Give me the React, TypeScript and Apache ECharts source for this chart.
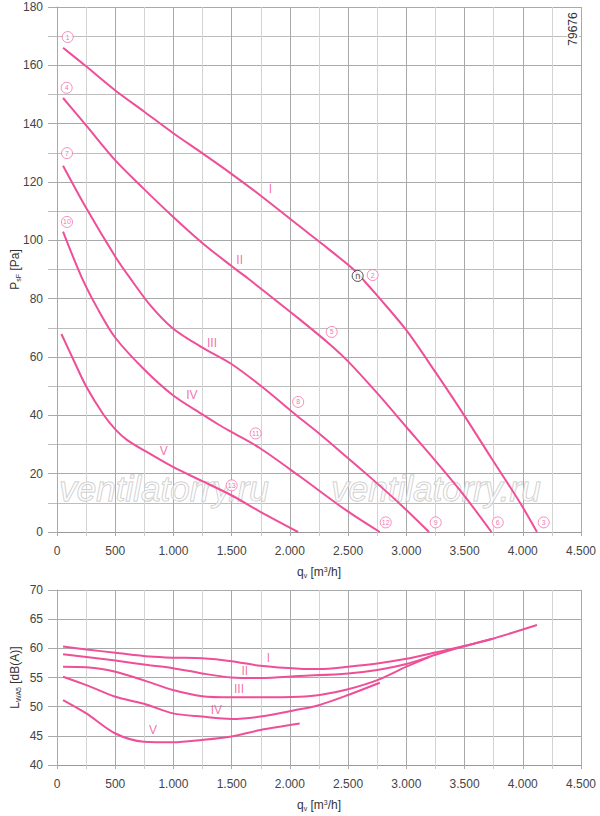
import { useEffect, useRef } from 'react';
import * as echarts from 'echarts';

const PINK = '#ee4f98';
const FONT = "'Liberation Sans', Arial, sans-serif";

// Druckkurven P_sF [Pa] über q_v [m3/h]
const pressI = [[52, 166], [252, 159.6], [501, 151.4], [750, 144.1], [996, 136.8], [1250, 129.8], [1498, 122.8], [1750, 115.3], [2084, 104.8], [2256, 99.4], [2542, 90.2], [2643, 85.9], [2760, 80.6], [3000, 69.2], [3250, 54.8], [3487, 40.6], [3731, 25.3], [3974, 10.2], [4122, 0]];
const pressII = [[52, 148.8], [252, 139.3], [501, 127.4], [739, 117.9], [996, 108.1], [1245, 99.2], [1498, 91.2], [1641, 86.9], [2084, 72.9], [2359, 63.8], [2500, 58.5], [2750, 47.6], [3000, 36], [3250, 24.4], [3487, 13.0], [3731, 0]];
const pressIII = [[52, 125.6], [252, 111], [501, 94.4], [625, 87.2], [800, 77.8], [996, 69.8], [1245, 63.3], [1498, 57.6], [1747, 50.2], [2084, 39.1], [2256, 33.6], [2500, 25.3], [2686, 18.9], [2943, 9.7], [3195, 0]];
const pressIV = [[52, 103], [210, 87.5], [350, 76.5], [501, 66.6], [747, 55.8], [996, 46.9], [1245, 40.4], [1397, 36.6], [1498, 34.3], [1741, 28.8], [2084, 19.1], [2485, 7.4], [2772, 0]];
const pressV = [[38, 67.9], [150, 58.3], [252, 49.8], [400, 40.2], [501, 35.2], [600, 31.6], [747, 28], [996, 22.3], [1245, 17.5], [1498, 12.6], [1747, 6.9], [2070, 0]];

// Schallleistung L_WA5 [dB(A)]
const noiseI = [[52, 60.3], [252, 59.8], [501, 59.25], [796, 58.6], [996, 58.4], [1245, 58.3], [1498, 57.8], [1747, 57.0], [2084, 56.5], [2256, 56.45], [2500, 56.85], [2750, 57.4], [3000, 58.2], [3250, 59.3], [3500, 60.4], [3750, 61.7], [4122, 64.0]];
const noiseII = [[52, 59.0], [501, 57.9], [796, 57.1], [996, 56.6], [1245, 55.7], [1498, 55.0], [1747, 54.9], [2084, 55.25], [2500, 55.7], [2750, 56.3], [3000, 57.3], [3250, 58.9], [3487, 60.3], [3731, 61.6]];
const noiseIII = [[52, 56.86], [252, 56.75], [501, 56.0], [747, 54.5], [996, 52.85], [1245, 51.8], [1498, 51.6], [1747, 51.6], [2084, 51.7], [2256, 52.0], [2500, 53.0], [2757, 54.6], [3000, 56.85], [3195, 58.5]];
const noiseIV = [[52, 55.14], [252, 53.7], [501, 51.7], [747, 50.5], [996, 48.85], [1245, 48.3], [1498, 47.9], [1747, 48.3], [2084, 49.55], [2256, 50.3], [2500, 52.0], [2772, 54.1]];
const noiseV = [[52, 51.14], [252, 48.85], [501, 45.4], [747, 44.0], [996, 43.9], [1245, 44.3], [1498, 44.9], [1747, 46.0], [2084, 47.1]];

// Beschriftungen
const curveNames = ['I', 'II', 'III', 'IV', 'V'];
const pressLabelPos = [[1833, 117.6], [1569, 93.3], [1331, 64.7], [1159, 46.9], [916, 27.8]];
const noiseLabelPos = [[1815, 58.3], [1612, 56.2], [1563, 53.1], [1369, 49.4], [824, 46.0]];
const pointMarks = [
  [92, 169.7, '1'], [2711, 88.1, '2'], [4180, 3.3, '3'],
  [83, 152.3, '4'], [2359, 68.6, '5'], [3785, 3.3, '6'],
  [86, 129.9, '7'], [2071, 44.6, '8'], [3252, 3.3, '9'],
  [86, 106.3, '10'], [1706, 33.8, '11'], [2823, 3.3, '12'],
  [1500, 16.0, '13'],
];
const nominalPoint = [[2582, 87.8, 'n']];

const pressCurves = [pressI, pressII, pressIII, pressIV, pressV];
const noiseCurves = [noiseI, noiseII, noiseIII, noiseIV, noiseV];

const fmtFlow = (v: number) =>
  v >= 1000 ? `${Math.floor(v / 1000)}.${String(v % 1000).padStart(3, '0')}` : String(v);

const rich = {
  sub: { fontSize: 7, padding: [7, 0, 0, 0], fontFamily: FONT, color: '#333' },
  sup: { fontSize: 7, padding: [0, 0, 6, 0], fontFamily: FONT, color: '#333' },
};

function xAxisCfg(gridIndex: number) {
  return {
    type: 'value',
    gridIndex,
    min: 0,
    max: 4500,
    interval: 500,
    name: 'q{sub|v} [m{sup|3}/h]',
    nameLocation: 'middle',
    nameGap: 33,
    nameTextStyle: { fontSize: 12, color: '#333', fontFamily: FONT, rich },
    axisLine: { show: true, lineStyle: { color: '#999', width: 1 } },
    axisTick: { show: true, length: 4, lineStyle: { color: '#aaa' } },
    minorTick: { show: true, splitNumber: 2, length: 4, lineStyle: { color: '#ccc' } },
    splitLine: { show: true, lineStyle: { color: '#a9a9a9', width: 1 } },
    minorSplitLine: { show: true, lineStyle: { color: '#d3d3d3', width: 1 } },
    axisLabel: { formatter: fmtFlow, color: '#444', fontSize: 12, margin: 13, fontFamily: FONT },
  };
}

function watermark(x: number) {
  return {
    type: 'text',
    x,
    y: 488,
    z: 1,
    style: {
      text: 'ventilatorry.ru',
      font: `italic 35px ${FONT}`,
      fill: 'rgba(255,255,255,0.5)',
      stroke: '#c4c4c4',
      lineWidth: 1,
      align: 'center',
      verticalAlign: 'middle',
    },
  };
}

export default function App() {
  const chartRef = useRef<HTMLDivElement>(null);

  useEffect(() => {
    if (!chartRef.current) return;
    const chart = echarts.init(chartRef.current, undefined, { renderer: 'svg' });

    const lineSeries: any[] = [];
    pressCurves.forEach((d, i) => {
      lineSeries.push({
        name: 'P ' + curveNames[i],
        type: 'line',
        xAxisIndex: 0,
        yAxisIndex: 0,
        data: d,
        smooth: 0.3,
        showSymbol: false,
        z: 3,
        lineStyle: { color: PINK, width: 2 },
      });
    });
    noiseCurves.forEach((d, i) => {
      lineSeries.push({
        name: 'L ' + curveNames[i],
        type: 'line',
        xAxisIndex: 1,
        yAxisIndex: 1,
        data: d,
        smooth: 0.3,
        showSymbol: false,
        z: 3,
        lineStyle: { color: PINK, width: 2 },
      });
    });

    const romanLabels = (pos: number[][], xi: number) => ({
      type: 'scatter',
      xAxisIndex: xi,
      yAxisIndex: xi,
      symbolSize: 1,
      itemStyle: { color: 'rgba(0,0,0,0)' },
      z: 4,
      data: pos.map((p, i) => [p[0], p[1], curveNames[i]]),
      label: {
        show: true,
        position: 'inside',
        formatter: (p: any) => p.value[2],
        color: PINK,
        fontSize: 12,
        fontFamily: FONT,
      },
    });

    const option: any = {
      animation: false,
      backgroundColor: '#fff',
      grid: [
        { left: 57, right: 19, top: 7, height: 525, containLabel: false, outerBoundsMode: 'none' },
        { left: 57, right: 19, top: 590, height: 175, containLabel: false, outerBoundsMode: 'none' },
      ],
      xAxis: [xAxisCfg(0), xAxisCfg(1)],
      yAxis: [
        {
          type: 'value',
          gridIndex: 0,
          min: 0,
          max: 180,
          interval: 20,
          name: 'P{sub|sF} [Pa]',
          nameLocation: 'middle',
          nameGap: 35,
          nameMoveOverlap: false,
          nameTextStyle: { fontSize: 12, color: '#333', fontFamily: FONT, rich },
          axisLine: { show: true, lineStyle: { color: '#a9a9a9' } },
          axisTick: { show: true, length: 9, lineStyle: { color: '#a9a9a9' } },
          minorTick: { show: true, splitNumber: 2, length: 9, lineStyle: { color: '#bdbdbd' } },
          splitLine: { show: true, lineStyle: { color: '#a9a9a9' } },
          minorSplitLine: { show: true, lineStyle: { color: '#bdbdbd' } },
          axisLabel: { color: '#444', fontSize: 12, margin: 14, fontFamily: FONT },
        },
        {
          type: 'value',
          gridIndex: 1,
          min: 40,
          max: 70,
          interval: 5,
          name: 'L{sub|WA5} [dB(A)]',
          nameLocation: 'middle',
          nameGap: 35,
          nameMoveOverlap: false,
          nameTextStyle: { fontSize: 12, color: '#333', fontFamily: FONT, rich },
          axisLine: { show: true, lineStyle: { color: '#a9a9a9' } },
          axisTick: { show: true, length: 9, lineStyle: { color: '#a9a9a9' } },
          splitLine: { show: true, lineStyle: { color: '#a9a9a9' } },
          axisLabel: { color: '#444', fontSize: 12, margin: 14, fontFamily: FONT },
        },
      ],
      graphic: [
        watermark(164),
        watermark(436),
        {
          type: 'text',
          x: 573,
          y: 29,
          rotation: Math.PI / 2,
          z: 5,
          style: {
            text: '79676',
            font: `12px ${FONT}`,
            fill: '#333',
            align: 'center',
            verticalAlign: 'middle',
            backgroundColor: '#fff',
          },
        },
      ],
      series: [
        ...lineSeries,
        romanLabels(pressLabelPos, 0),
        romanLabels(noiseLabelPos, 1),
        {
          type: 'scatter',
          xAxisIndex: 0,
          yAxisIndex: 0,
          symbol: 'circle',
          symbolSize: 11,
          z: 5,
          itemStyle: { color: '#fff', borderColor: PINK, borderWidth: 0.8 },
          data: pointMarks,
          label: {
            show: true,
            position: 'inside',
            formatter: (p: any) => p.value[2],
            color: PINK,
            fontSize: 7,
            fontFamily: FONT,
          },
        },
        {
          type: 'scatter',
          xAxisIndex: 0,
          yAxisIndex: 0,
          symbol: 'circle',
          symbolSize: 11,
          z: 5,
          itemStyle: { color: '#fff', borderColor: '#222', borderWidth: 1 },
          data: nominalPoint,
          label: {
            show: true,
            position: 'inside',
            formatter: (p: any) => p.value[2],
            color: '#222',
            fontSize: 9,
            fontFamily: FONT,
          },
        },
      ],
    };

    chart.setOption(option);
    return () => {
      chart.dispose();
    };
  }, []);

  return (
    <div
      ref={chartRef}
      style={{ position: 'fixed', left: 0, top: 0, width: 600, height: 816, background: '#fff' }}
    />
  );
}
